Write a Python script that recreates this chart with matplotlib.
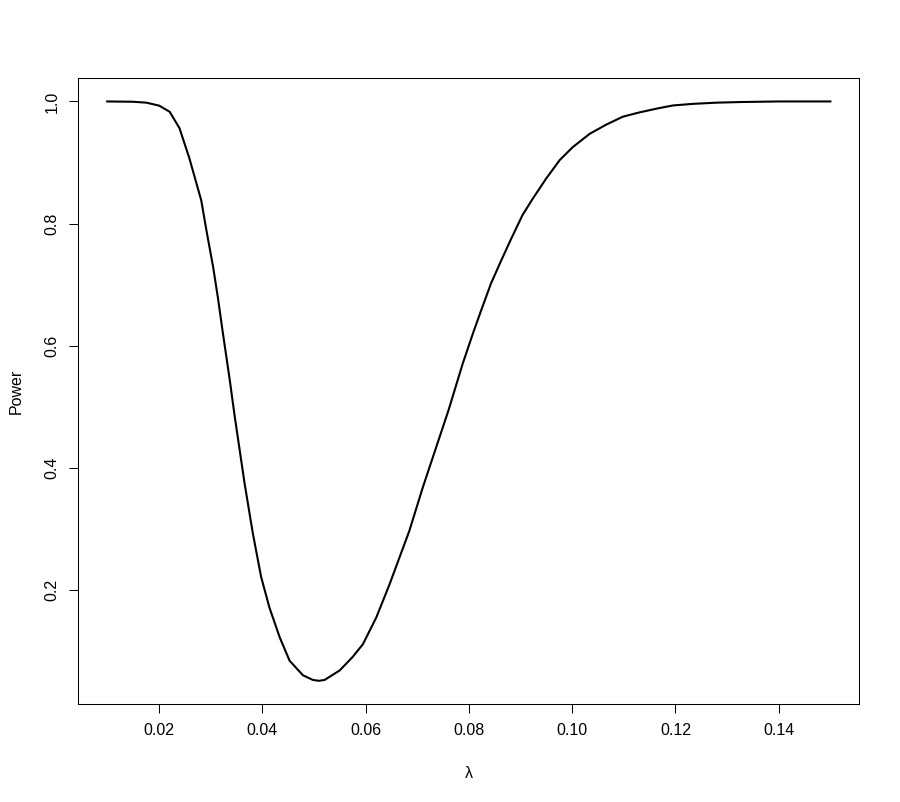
# power curve of the test as a function of lambda
import matplotlib
matplotlib.use("Agg")
import matplotlib.pyplot as plt

plt.rcParams['font.family'] = ['Liberation Sans', 'DejaVu Sans']

# values
lam = [0.0100, 0.0150, 0.0176, 0.0201, 0.0221, 0.0240, 0.0259, 0.0282,
       0.0292, 0.0305, 0.0314, 0.0324, 0.0337, 0.0347, 0.0366, 0.0382,
       0.0398, 0.0414, 0.0434, 0.0453, 0.0479, 0.0498, 0.0510, 0.0521,
       0.0550, 0.0575, 0.0595, 0.0621, 0.0647, 0.0685, 0.0711, 0.0737,
       0.0761, 0.0788, 0.0808, 0.0824, 0.0843, 0.0863, 0.0882, 0.0904,
       0.0924, 0.0950, 0.0976, 0.1001, 0.1034, 0.1066, 0.1098, 0.1130,
       0.1165, 0.1195, 0.1233, 0.1279, 0.1324, 0.1400, 0.1500]
power = [1.000, 0.9995, 0.998, 0.993, 0.983, 0.956, 0.907, 0.838,
         0.789, 0.729, 0.680, 0.620, 0.545, 0.483, 0.374, 0.292,
         0.221, 0.171, 0.122, 0.084, 0.060, 0.0525, 0.0510, 0.0525,
         0.068, 0.090, 0.111, 0.155, 0.210, 0.297, 0.368, 0.434,
         0.495, 0.570, 0.620, 0.658, 0.702, 0.740, 0.775, 0.814,
         0.841, 0.874, 0.904, 0.925, 0.947, 0.962, 0.975, 0.982,
         0.9885, 0.9934, 0.996, 0.998, 0.999, 1.000, 1.000]

x_ticks = [0.02, 0.04, 0.06, 0.08, 0.10, 0.12, 0.14]
y_ticks = [0.2, 0.4, 0.6, 0.8, 1.0]

fig = plt.figure(figsize=(9, 8.02), dpi=100)
ax = fig.add_axes([0.087, 0.1222, 0.8678, 0.7802])

ax.plot(lam, power, color="black", linewidth=1.5)

# R style 4% padding around the data range
xr = max(lam) - min(lam)
yr = max(power) - min(power)
ax.set_xlim(min(lam) - 0.04 * xr, max(lam) + 0.04 * xr)
ax.set_ylim(min(power) - 0.04 * yr, max(power) + 0.04 * yr)

ax.set_xticks(x_ticks)
ax.set_xticklabels(["%.2f" % v for v in x_ticks])
ax.set_yticks(y_ticks)
ax.set_yticklabels(["%.1f" % v for v in y_ticks])
ax.tick_params(axis="both", direction="out", length=6.7, width=0.75,
               labelsize=11.5, pad=7)
ax.tick_params(axis="y", labelrotation=90)
for t in ax.get_yticklabels():
    t.set_va("center")

for s in ax.spines.values():
    s.set_linewidth(0.75)

ax.set_xlabel("λ", fontsize=11.5, labelpad=20)
ax.set_ylabel("Power", fontsize=11.5, labelpad=15)

fig.savefig("out.png", dpi=100)
